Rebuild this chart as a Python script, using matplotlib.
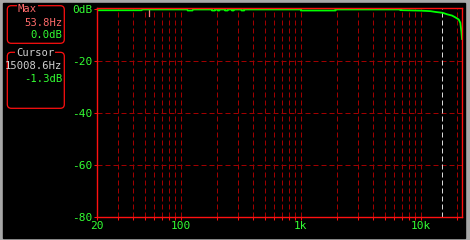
import matplotlib
matplotlib.use("Agg")
from matplotlib import pyplot as plt
from matplotlib.patches import FancyBboxPatch, Rectangle

# measured response (Hz, dB)
freq = [20, 47, 48, 113, 114, 125, 126, 181, 182, 192, 193, 202, 203, 209, 210,
        233, 234, 245, 246, 266, 267, 275, 276, 320, 321, 337, 338, 1000, 1001,
        1945, 1946, 6760, 6761, 9950, 12050, 13250, 15008.6, 15500, 16540,
        18230, 19410, 20700, 21360, 21800, 22050]
level = [-0.35, -0.35, -0.05, -0.05, -0.45, -0.45, -0.05, -0.05, -0.45, -0.45,
         -0.05, -0.05, -0.45, -0.45, -0.05, -0.05, -0.45, -0.45, -0.05, -0.05,
         -0.45, -0.45, -0.05, -0.05, -0.45, -0.45, -0.05, -0.05, -0.45,
         -0.45, -0.05, -0.05, -0.3, -0.5, -0.7, -1.0, -1.3, -1.45, -1.9,
         -2.4, -3.1, -3.9, -5.2, -8.5, -11.4]

x_major = [20, 100, 1000, 10000]
x_labels = ["20", "100", "1k", "10k"]
x_minor = [30, 40, 50, 60, 70, 80, 90,
           200, 300, 400, 500, 600, 700, 800, 900,
           2000, 3000, 4000, 5000, 6000, 7000, 8000, 9000, 20000]
y_ticks = [0, -20, -40, -60, -80]
y_labels = ["0dB", "-20", "-40", "-60", "-80"]

max_freq = 53.8
max_level = 0.0
cursor_freq = 15008.6
cursor_level = -1.3

red = "#ff1010"
grid_red = "#a00000"
green = "#33ff33"
salmon = "#ff6a6a"
grey_txt = "#d0d0d0"
mono = "DejaVu Sans Mono"
dash = (0, (5, 3))

W, H = 470, 240
fig = plt.figure(figsize=(W / 100, H / 100), dpi=100)
fig.patch.set_facecolor("#a8a8a8")

# background + info panels, drawn in pixel coords
bg = fig.add_axes([0, 0, 1, 1])
bg.set_xlim(0, W)
bg.set_ylim(H, 0)
bg.axis("off")
bg.add_patch(Rectangle((3, 2.5), 461.5, 235, color="black"))

for top, bottom in [(5.7, 43.3), (52.3, 108.3)]:
    bg.add_patch(FancyBboxPatch((7.3, top), 57, bottom - top,
                                boxstyle="round,pad=0,rounding_size=4",
                                fc="black", ec=red, lw=0.9))

title_box = dict(facecolor="black", edgecolor="none", pad=0.5)
fs = 7.6
bg.text(27.5, 9.5, "Max", color=salmon, family=mono, fontsize=fs,
        ha="center", va="center", bbox=title_box)
bg.text(62.5, 22.5, f"{max_freq}Hz", color=salmon, family=mono, fontsize=fs,
        ha="right", va="center")
bg.text(62.5, 35.5, f"{max_level:.1f}dB", color=green, family=mono, fontsize=fs,
        ha="right", va="center")
bg.text(35, 52.5, "Cursor", color=grey_txt, family=mono, fontsize=fs,
        ha="center", va="center", bbox=title_box)
bg.text(62.5, 66, f"{cursor_freq}Hz", color=grey_txt, family=mono, fontsize=fs,
        ha="right", va="center")
bg.text(62.5, 79, f"{cursor_level}dB", color=green, family=mono, fontsize=fs,
        ha="right", va="center")

# main plot
left, right, top, bottom = 97, 462, 8.3, 217.3
ax = fig.add_axes([left / W, (H - bottom) / H, (right - left) / W, (bottom - top) / H])
ax.set_facecolor("black")
ax.set_xscale("log")
ax.set_xlim(20, 22050)
ax.set_ylim(-80, 0.4)

ax.set_xticks(x_major)
ax.set_xticklabels(x_labels)
ax.set_xticks(x_minor, minor=True)
ax.set_xticklabels([], minor=True)
ax.set_yticks(y_ticks)
ax.set_yticklabels(y_labels)

for s in ax.spines.values():
    s.set_color(red)
    s.set_linewidth(1.0)

ax.tick_params(which="both", direction="out", length=2.2, width=0.75, color=red)
ax.tick_params(axis="x", which="major", pad=0.8, labelsize=8, labelcolor=green)
ax.tick_params(axis="y", pad=1.2, labelsize=8, labelcolor=green)
for lab in ax.get_xticklabels() + ax.get_yticklabels():
    lab.set_family(mono)

# dashed grid, 1px, snapped to pixels
for f in x_major[1:] + x_minor:
    ax.axvline(f, color=grid_red, lw=0.72, ls=dash, snap=True, zorder=1)
for v in y_ticks[1:-1]:
    ax.axhline(v, color=grid_red, lw=0.72, ls=dash, snap=True, zorder=1)

ax.axvline(cursor_freq, color="#d8d8d8", lw=0.72, ls=dash, snap=True, zorder=1.5)
ax.axvline(max_freq, ymin=0.965, ymax=1.0, color="#ff8080", lw=0.9, snap=True)
ax.plot(freq, level, color="#00ff00", lw=1.3, zorder=2)

fig.savefig("out.png", dpi=100, facecolor=fig.get_facecolor())
